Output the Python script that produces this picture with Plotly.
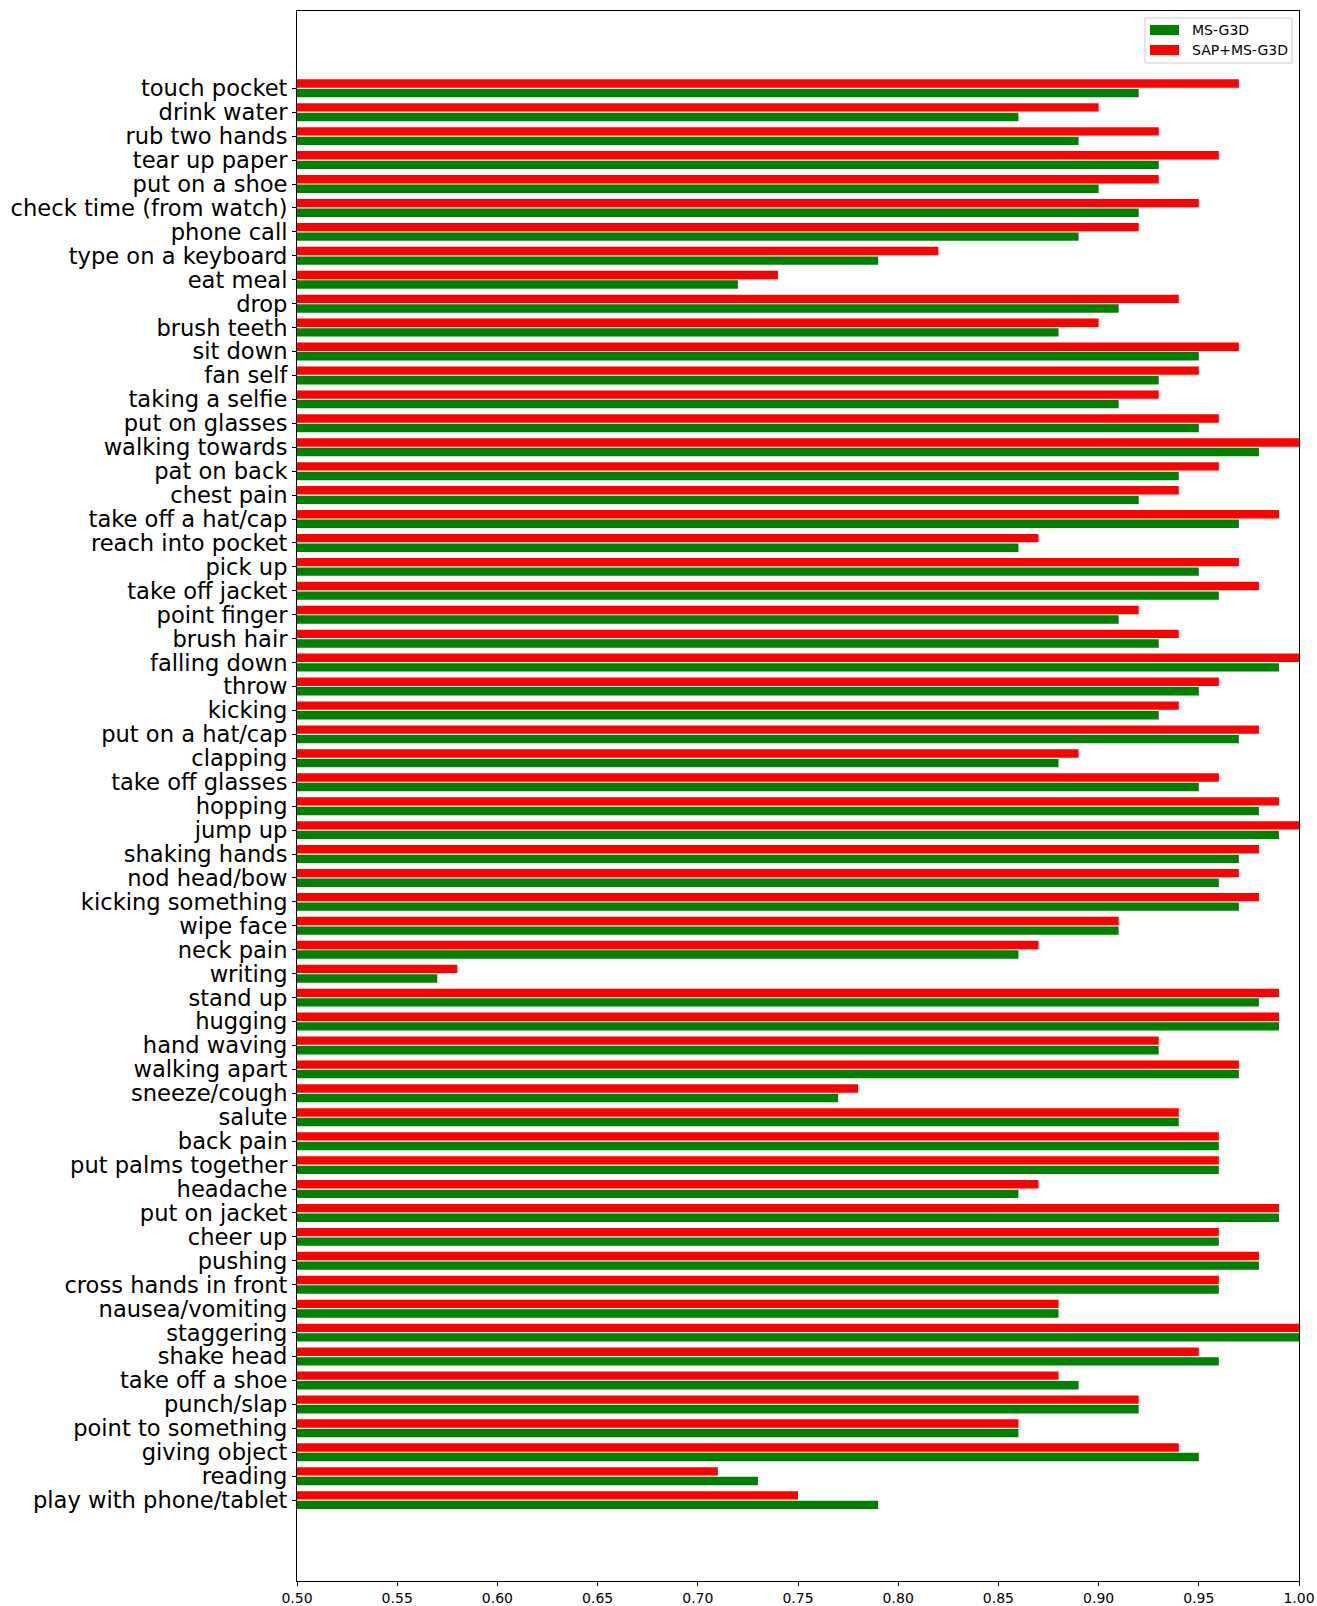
import plotly.graph_objects as go

# Action classes, listed from the top of the chart to the bottom
actions = [
    "touch pocket", "drink water", "rub two hands", "tear up paper", "put on a shoe",
    "check time (from watch)", "phone call", "type on a keyboard", "eat meal", "drop",
    "brush teeth", "sit down", "fan self", "taking a selfie", "put on glasses",
    "walking towards", "pat on back", "chest pain", "take off a hat/cap", "reach into pocket",
    "pick up", "take off jacket", "point finger", "brush hair", "falling down",
    "throw", "kicking", "put on a hat/cap", "clapping", "take off glasses",
    "hopping", "jump up", "shaking hands", "nod head/bow", "kicking something",
    "wipe face", "neck pain", "writing", "stand up", "hugging",
    "hand waving", "walking apart", "sneeze/cough", "salute", "back pain",
    "put palms together", "headache", "put on jacket", "cheer up", "pushing",
    "cross hands in front", "nausea/vomiting", "staggering", "shake head", "take off a shoe",
    "punch/slap", "point to something", "giving object", "reading", "play with phone/tablet",
]

# Per-class accuracy, same order as actions
ms_g3d = [
    0.92, 0.86, 0.89, 0.93, 0.90,
    0.92, 0.89, 0.79, 0.72, 0.91,
    0.88, 0.95, 0.93, 0.91, 0.95,
    0.98, 0.94, 0.92, 0.97, 0.86,
    0.95, 0.96, 0.91, 0.93, 0.99,
    0.95, 0.93, 0.97, 0.88, 0.95,
    0.98, 0.99, 0.97, 0.96, 0.97,
    0.91, 0.86, 0.57, 0.98, 0.99,
    0.93, 0.97, 0.77, 0.94, 0.96,
    0.96, 0.86, 0.99, 0.96, 0.98,
    0.96, 0.88, 1.00, 0.96, 0.89,
    0.92, 0.86, 0.95, 0.73, 0.79,
]
sap_ms_g3d = [
    0.97, 0.90, 0.93, 0.96, 0.93,
    0.95, 0.92, 0.82, 0.74, 0.94,
    0.90, 0.97, 0.95, 0.93, 0.96,
    1.00, 0.96, 0.94, 0.99, 0.87,
    0.97, 0.98, 0.92, 0.94, 1.00,
    0.96, 0.94, 0.98, 0.89, 0.96,
    0.99, 1.00, 0.98, 0.97, 0.98,
    0.91, 0.87, 0.58, 0.99, 0.99,
    0.93, 0.97, 0.78, 0.94, 0.96,
    0.96, 0.87, 0.99, 0.96, 0.98,
    0.96, 0.88, 1.00, 0.95, 0.88,
    0.92, 0.86, 0.94, 0.71, 0.75,
]

x_ticks = [0.50, 0.55, 0.60, 0.65, 0.70, 0.75, 0.80, 0.85, 0.90, 0.95, 1.00]

n = len(actions)
pos = [n - 1 - i for i in range(n)]

FONT = "DejaVu Sans"
W, H = 1317, 1606
L, R, T, B = 297, 1299, 11, 1581  # plot area edges in pixels


def px_x(px):
    return (px - L) / (R - L)


def px_y(py):
    return (B - py) / (B - T)


fig = go.Figure()
fig.add_trace(go.Bar(
    y=pos, x=ms_g3d, orientation="h", name="MS-G3D",
    marker=dict(color="green", line=dict(width=0)),
    width=0.35, offset=-0.375, showlegend=False,
))
fig.add_trace(go.Bar(
    y=pos, x=sap_ms_g3d, orientation="h", name="SAP+MS-G3D",
    marker=dict(color="red", line=dict(width=0)),
    width=0.35, offset=0.025, showlegend=False,
))

# Legend box drawn by hand so the swatches are wide rectangles
shapes = [
    dict(type="rect", xref="paper", yref="paper",
         x0=px_x(1145), x1=px_x(1292), y0=px_y(63), y1=px_y(18),
         line=dict(color="#cccccc", width=1), fillcolor="rgba(255,255,255,0.8)", layer="above"),
    dict(type="rect", xref="paper", yref="paper",
         x0=px_x(1150), x1=px_x(1179), y0=px_y(35), y1=px_y(25),
         line=dict(width=0), fillcolor="green", layer="above"),
    dict(type="rect", xref="paper", yref="paper",
         x0=px_x(1150), x1=px_x(1179), y0=px_y(55), y1=px_y(45),
         line=dict(width=0), fillcolor="red", layer="above"),
]
annotations = [
    dict(text="MS-G3D", xref="paper", yref="paper", x=px_x(1190), y=px_y(30),
         xanchor="left", yanchor="middle", showarrow=False,
         font=dict(family=FONT, size=14, color="black")),
    dict(text="SAP+MS-G3D", xref="paper", yref="paper", x=px_x(1190), y=px_y(50),
         xanchor="left", yanchor="middle", showarrow=False,
         font=dict(family=FONT, size=14, color="black")),
]

fig.update_layout(
    width=W, height=H, autosize=False,
    margin=dict(l=L, r=W - R, t=T, b=H - B, pad=0),
    barmode="overlay",
    plot_bgcolor="white", paper_bgcolor="white",
    font=dict(family=FONT, color="black"),
    shapes=shapes, annotations=annotations,
    xaxis=dict(
        range=[0.5, 1.0], tickvals=x_ticks, ticktext=[f"{v:.2f}" for v in x_ticks],
        ticks="outside", ticklen=4, tickwidth=1, tickcolor="black",
        showline=True, linecolor="black", linewidth=1, mirror=True,
        showgrid=False, zeroline=False, automargin=False,
        tickfont=dict(family=FONT, size=14, color="black"),
    ),
    yaxis=dict(
        range=[-3.38, n - 1 + 3.23], tickvals=pos, ticktext=actions,
        ticks="outside", ticklen=4, tickwidth=1, tickcolor="black",
        showline=True, linecolor="black", linewidth=1, mirror=True,
        showgrid=False, zeroline=False, automargin=False,
        tickfont=dict(family=FONT, size=22.6, color="black"),
    ),
)

fig.write_html("out.html")
